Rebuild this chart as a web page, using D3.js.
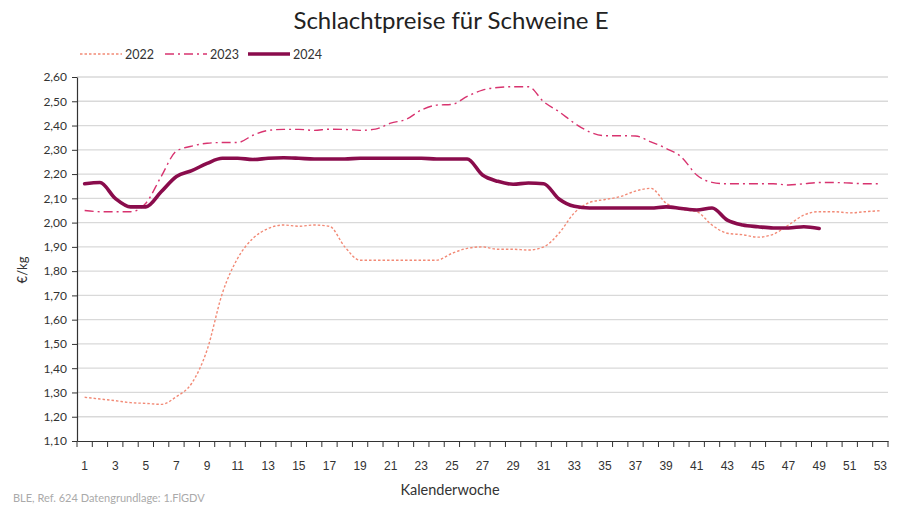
<!DOCTYPE html>
<html><head><meta charset="utf-8">
<script src="https://cdn.jsdelivr.net/npm/d3@7"></script>
<style>
html,body{margin:0;padding:0;background:#fff;}
svg{display:block;font-family:Lato,"Open Sans",sans-serif;}
</style></head>
<body><svg id="c" width="900" height="506"></svg>
<script>
const weeks = d3.range(1, 54);
const yTicks = [1.10,1.20,1.30,1.40,1.50,1.60,1.70,1.80,1.90,2.00,2.10,2.20,2.30,2.40,2.50,2.60];
const seriesNames = ["2022","2023","2024"];
const v2022 = [1.28,1.273,1.266,1.258,1.255,1.251,1.283,1.338,1.475,1.709,1.853,1.935,1.976,1.99,1.985,1.99,1.985,1.90,
  1.845,1.845,1.845,1.845,1.845,1.845,1.873,1.894,1.90,1.89,1.89,1.887,1.90,1.956,2.04,2.083,2.095,
  2.107,2.13,2.141,2.08,2.055,2.045,1.99,1.956,1.95,1.94,1.952,1.99,2.031,2.045,2.045,2.04,2.045,2.049];
const v2023 = [2.05,2.045,2.045,2.045,2.08,2.19,2.295,2.315,2.327,2.33,2.33,2.36,2.38,2.384,2.384,2.38,2.385,2.384,
  2.38,2.385,2.41,2.425,2.464,2.484,2.487,2.52,2.546,2.557,2.56,2.56,2.498,2.457,2.41,2.374,2.358,
  2.358,2.357,2.333,2.306,2.27,2.196,2.166,2.16,2.16,2.16,2.16,2.155,2.16,2.165,2.165,2.163,2.16,2.16];
const v2024 = [2.16,2.165,2.10,2.065,2.065,2.127,2.19,2.214,2.244,2.265,2.265,2.26,2.265,2.267,2.265,2.262,2.262,2.262,
  2.265,2.265,2.265,2.265,2.265,2.262,2.262,2.262,2.196,2.17,2.158,2.163,2.16,2.097,2.067,2.06,2.06,
  2.06,2.06,2.06,2.065,2.058,2.052,2.06,2.01,1.99,1.983,1.978,1.978,1.983,1.976];
const colors = ["#f28a76","#d8336f","#8a0c4c"];

const svg = d3.select("#c");
const m = {l:77, r:12, t:77, b:65};
const x = d3.scaleBand().domain(weeks).range([m.l, 888]);
const y = d3.scaleLinear().domain([1.10, 2.60]).range([441, 77]);

// gridlines
svg.append("g").selectAll("line").data(yTicks.slice(1)).join("line")
  .attr("x1", m.l).attr("x2", 888).attr("y1", d=>y(d)).attr("y2", d=>y(d))
  .attr("stroke", "#d9d9d9").attr("stroke-width", 1.3);

// y axis
const fmt = d => d.toFixed(2).replace(".", ",");
const ya = svg.append("g").attr("transform", `translate(${m.l},0)`)
  .call(d3.axisLeft(y).tickValues(yTicks).tickFormat(fmt).tickSize(5).tickSizeOuter(0));
ya.select(".domain").attr("stroke", "#333").attr("stroke-width", 1.2);
ya.selectAll(".tick line").attr("stroke", "#333");
ya.selectAll("text").attr("font-size", 12).attr("fill", "#333").attr("x", -10)
  .attr("font-family", "Lato, sans-serif");

// x axis
const xa = svg.append("g").attr("transform", `translate(0,441)`)
  .call(d3.axisBottom(x).tickValues([]).tickSizeOuter(0));
xa.select(".domain").attr("stroke", "#333").attr("stroke-width", 1.2);
const bounds = weeks.map(w => x(w)).concat([888]);
xa.append("g").selectAll("line").data(bounds).join("line")
  .attr("x1", d=>d).attr("x2", d=>d).attr("y1", 0).attr("y2", 6).attr("stroke", "#333");
xa.append("g").selectAll("text").data(weeks.filter(w => w % 2 === 1)).join("text")
  .attr("x", d => x(d) + x.bandwidth()/2).attr("y", 29)
  .attr("text-anchor", "middle").attr("font-size", 12).attr("fill", "#333").text(d => d);

// lines
const data = [v2022, v2023, v2024];
const line = d3.line()
  .x((d,i) => x(weeks[i]) + x.bandwidth()/2)
  .y(d => y(d))
  .curve(d3.curveMonotoneX);
const styles = [
  {w:1.4, dash:"2.5,2"},
  {w:1.4, dash:"9,4,2,4"},
  {w:3.6, dash:null}
];
data.forEach((vals, i) => {
  svg.append("path").datum(vals).attr("d", line)
    .attr("fill", "none").attr("stroke", colors[i])
    .attr("stroke-width", styles[i].w)
    .attr("stroke-dasharray", styles[i].dash)
    .attr("stroke-linejoin", "round").attr("stroke-linecap", i === 2 ? "round" : "butt");
});

// legend
const legX = [80, 165, 248];
seriesNames.forEach((n, i) => {
  const g = svg.append("g");
  g.append("line").attr("x1", legX[i]).attr("x2", legX[i] + 42).attr("y1", 54).attr("y2", 54)
    .attr("stroke", colors[i]).attr("stroke-width", styles[i].w).attr("stroke-dasharray", styles[i].dash);
  g.append("text").attr("x", legX[i] + 45).attr("y", 58.5).attr("font-size", 12.5).attr("fill", "#333").text(n);
});

// title
svg.append("text").attr("x", 451).attr("y", 29).attr("text-anchor", "middle")
  .attr("font-size", 24).attr("fill", "#222").text("Schlachtpreise für Schweine E");

// axis titles
svg.append("text").attr("transform", "translate(27,270) rotate(-90)").attr("text-anchor", "middle")
  .attr("font-size", 13).attr("fill", "#333").text("€/kg");
svg.append("text").attr("x", 450).attr("y", 495).attr("text-anchor", "middle")
  .attr("font-size", 14.5).attr("fill", "#333").text("Kalenderwoche");

// source
svg.append("text").attr("x", 13).attr("y", 502).attr("font-size", 11).attr("fill", "#aaa")
  .text("BLE, Ref. 624 Datengrundlage: 1.FlGDV");
</script></body></html>
